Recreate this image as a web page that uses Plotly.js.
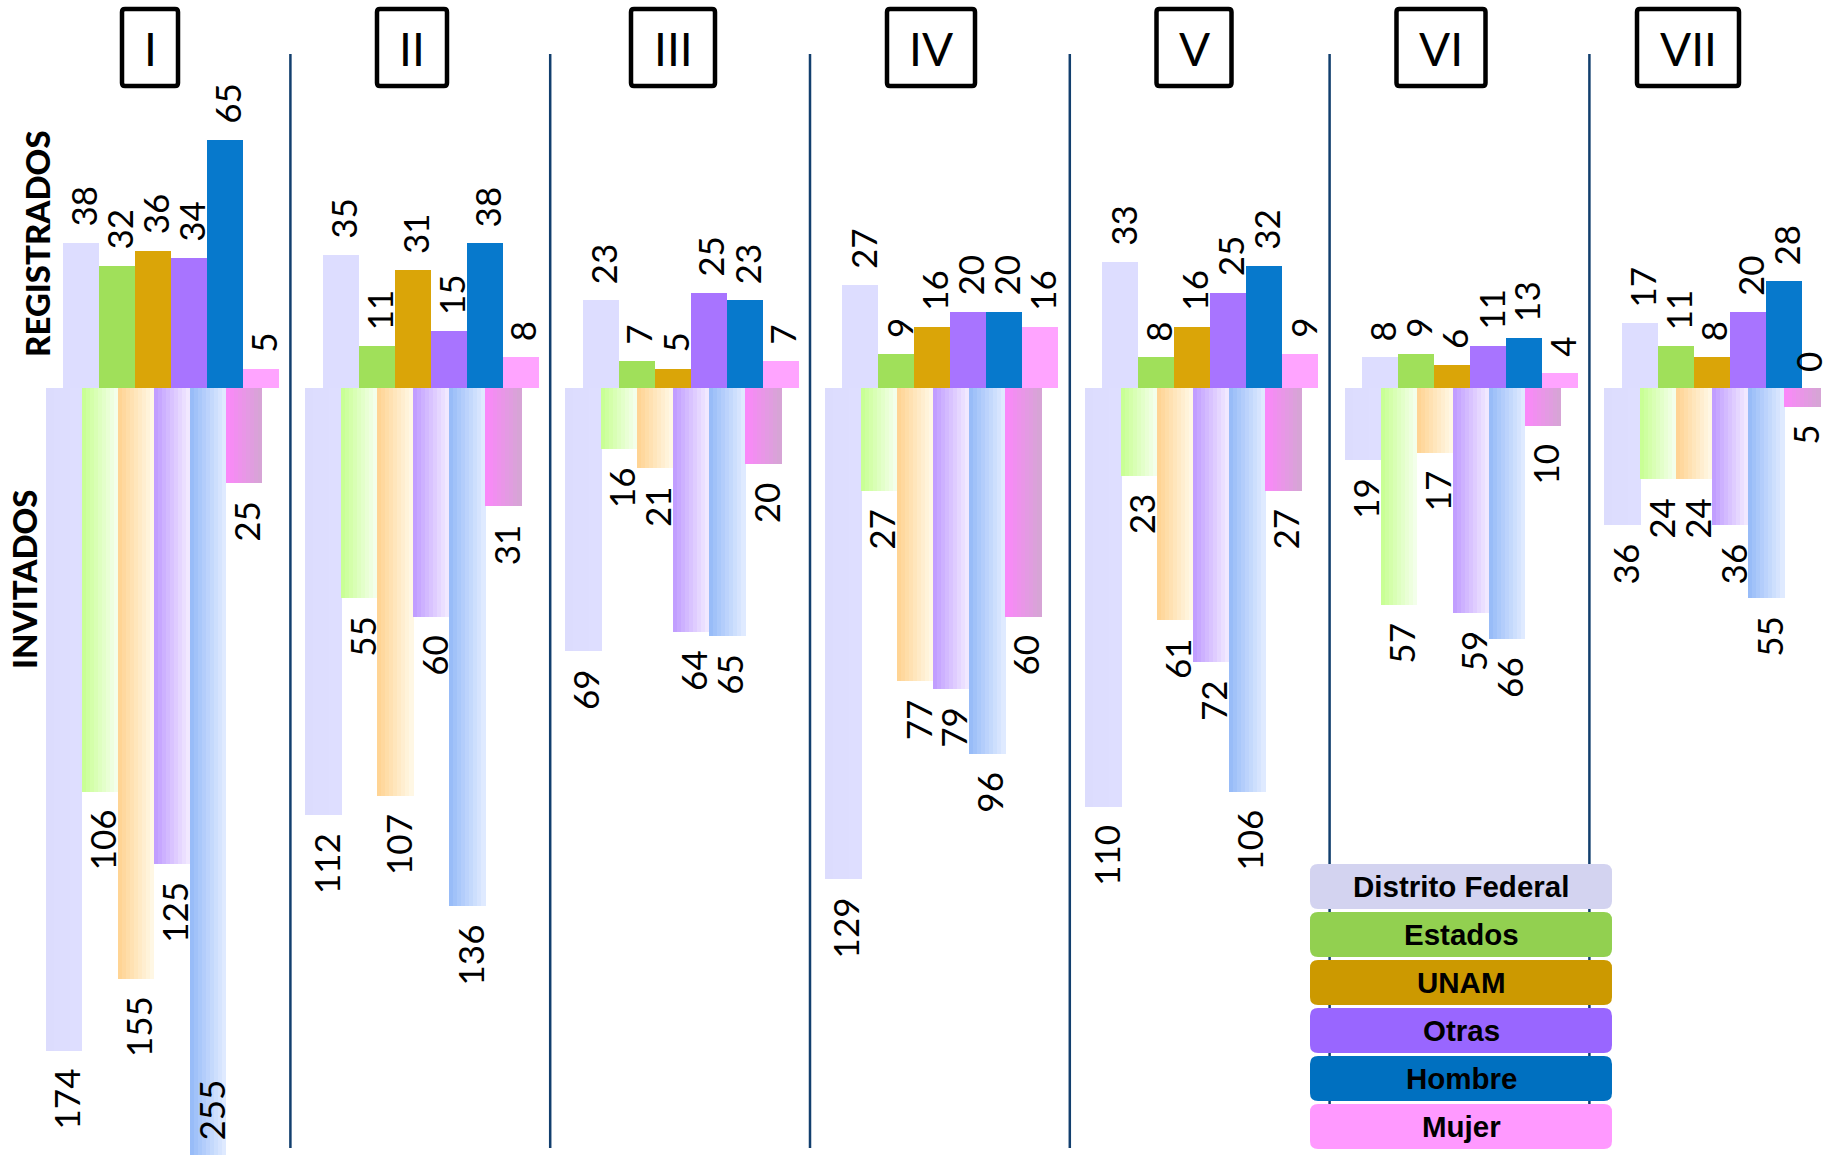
<!DOCTYPE html>
<html><head><meta charset="utf-8">
<script src="https://cdn.plot.ly/plotly-3.0.1.min.js"></script>
<style>html,body{margin:0;padding:0;background:#fff}#chart{width:1830px;height:1155px}</style>
</head><body><div id="chart"></div>
<script>
// ---- data ----
const groups = ['I','II','III','IV','V','VI','VII'];
const categories = ['Distrito Federal','Estados','UNAM','Otras','Hombre','Mujer'];
const regDF      = [38,35,23,27,33, 8,17];
const regEstados = [32,11, 7, 9, 8, 9,11];
const regUNAM    = [36,31, 5,16,16, 6, 8];
const regOtras   = [34,15,25,20,25,11,20];
const regHombre  = [65,38,23,20,32,13,28];
const regMujer   = [ 5, 8, 7,16, 9, 4, 0];
const invDF      = [174,112,69,129,110,19,36];
const invEstados = [106, 55,16, 27, 23,57,24];
const invUNAM    = [155,107,21, 77, 61,17,24];
const invOtras   = [125, 60,64, 79, 72,59,36];
const invHombre  = [255,136,65, 96,106,66,55];
const invMujer   = [ 25, 31,20, 60, 27,10, 5];
const rowLabels = ['REGISTRADOS','INVITADOS'];

// ---- styles / layout constants ----
const W = 1830, H = 1155;
const BAR_W = 36, STEP = 259.8, REG_X0 = 63, INV_X0 = 46;
const Y_TOP = 101.8, Y_BOT = -201.3;
const regColors = ['#DDDDFF','#A0E05A','#DAA508','#A874FF','#0779CC','#FFA4FF'];
const invLeft   = ['#DCDCFD','#C9FF95','#FFD494','#C19EFF','#98BCF8','#FA88F8'];
const invRight  = ['#DEDEFF','#F3FFEA','#FFF7E4','#F1E8FF','#DFEAFF','#D7A4D6'];
const legendColors = ['#D3D3F0','#92D050','#CC9900','#9966FF','#0070C0','#FF99FF'];
const BOX_CX = [150,412,673,931,1194,1441,1688];
const BOX_W  = [56,70,84,88,75,89,102];

const regSeries = [regDF,regEstados,regUNAM,regOtras,regHombre,regMujer];
const invSeries = [invDF,invEstados,invUNAM,invOtras,invHombre,invMujer];

function hex2rgb(h){h=h.replace('#','');return [0,2,4].map(i=>parseInt(h.substr(i,2),16));}
function mix(a,b,t){const A=hex2rgb(a),B=hex2rgb(b);return 'rgb('+A.map((v,i)=>Math.round(v+(B[i]-v)*t)).join(',')+')';}
const px = x => x/W, py = y => 1 - y/H;

const traces = [];
regSeries.forEach((vals,c)=>{
  traces.push({type:'bar', name:categories[c], x: groups.map((g,i)=>REG_X0 + i*STEP + (c+0.5)*BAR_W),
    y: vals, width: BAR_W, marker:{color:regColors[c], line:{width:0}}, hoverinfo:'skip', showlegend:false});
});
const N = 9;
invSeries.forEach((vals,c)=>{
  for(let k=0;k<N;k++){
    const t = k/(N-1);
    traces.push({type:'bar', name:categories[c], x: groups.map((g,i)=>INV_X0 + i*STEP + c*BAR_W + (k+0.5)*BAR_W/N),
      y: vals.map(v=>-v), width: BAR_W/N + 0.7, marker:{color:mix(invLeft[c],invRight[c],t), line:{width:0}},
      hoverinfo:'skip', showlegend:false});
  }
});

const annotations = [];
const numFont = {family:'Lato, "Open Sans", sans-serif', size:35, color:'#000'};
function labelX(cx){ return Math.min(cx, W - 24); }
regSeries.forEach((vals,c)=>{
  vals.forEach((v,i)=>{
    annotations.push({x: labelX(REG_X0 + i*STEP + (c+0.5)*BAR_W), y: v, xref:'x', yref:'y', text:String(v),
      showarrow:false, textangle:-90, xanchor:'center', yanchor:'bottom', yshift:14, xshift:2, font:numFont});
  });
});
invSeries.forEach((vals,c)=>{
  vals.forEach((v,i)=>{
    const clipped = -v < Y_BOT;
    annotations.push({x: labelX(INV_X0 + i*STEP + (c+0.5)*BAR_W), y: clipped ? Y_BOT : -v, xref:'x', yref:'y', text:String(v),
      showarrow:false, textangle:-90, xanchor:'center', yanchor: clipped ? 'bottom' : 'top', yshift: clipped ? 12 : -16, xshift:2, font:numFont});
  });
});
// row labels
annotations.push({x:px(37), y:py(244), xref:'paper', yref:'paper', xanchor:'center', yanchor:'middle', text:rowLabels[0], showarrow:false, textangle:-90,
  font:{family:'Lato, sans-serif', size:33, color:'#000', weight:900}});
annotations.push({x:px(24), y:py(579), xref:'paper', yref:'paper', xanchor:'center', yanchor:'middle', text:rowLabels[1], showarrow:false, textangle:-90,
  font:{family:'Lato, sans-serif', size:33, color:'#000', weight:900}});

function rr(x0,y0,x1,y1,r){
  const P=(x,y)=>px(x).toFixed(5)+','+py(y).toFixed(5);
  return 'M'+P(x0+r,y0)+' L'+P(x1-r,y0)+' Q'+P(x1,y0)+' '+P(x1,y0+r)+' L'+P(x1,y1-r)+' Q'+P(x1,y1)+' '+P(x1-r,y1)+
    ' L'+P(x0+r,y1)+' Q'+P(x0,y1)+' '+P(x0,y1-r)+' L'+P(x0,y0+r)+' Q'+P(x0,y0)+' '+P(x0+r,y0)+' Z';
}

const shapes = [];
// separators
for(let g=0; g<groups.length-1; g++){
  const sx = (REG_X0 + g*STEP + 6*BAR_W + INV_X0 + (g+1)*STEP)/2 - 2;
  shapes.push({type:'line', xref:'x', yref:'paper', x0:sx, x1:sx, y0:py(54), y1:py(1148), line:{color:'#123F6E', width:2.5}, layer:'below'});
}
// group boxes
groups.forEach((g,i)=>{
  shapes.push({type:'path', xref:'paper', yref:'paper', path: rr(BOX_CX[i]-BOX_W[i]/2, 9, BOX_CX[i]+BOX_W[i]/2, 86, 3),
    line:{color:'#000', width:4.5}, fillcolor:'rgba(0,0,0,0)', layer:'above'});
  annotations.push({x:px(BOX_CX[i]), y:py(48), xref:'paper', yref:'paper', xanchor:'center', yanchor:'middle', text:g, showarrow:false,
    font:{family:'Lato, sans-serif', size:46, color:'#000'}});
});
// legend
categories.forEach((c,i)=>{
  const top = 864 + 48*i;
  shapes.push({type:'path', xref:'paper', yref:'paper', path: rr(1310, top, 1612, top+45, 8),
    line:{width:0}, fillcolor: legendColors[i], layer:'above'});
  annotations.push({x:px(1461), y:py(top+22.5), xref:'paper', yref:'paper', xanchor:'center', yanchor:'middle', text:c, showarrow:false,
    font:{family:'"Liberation Sans", Arial, sans-serif', size:29.5, color:'#000', weight:'bold'}});
});

const layout = {
  width:W, height:H, margin:{l:0,r:0,t:0,b:0}, paper_bgcolor:'#fff', plot_bgcolor:'rgba(0,0,0,0)',
  barmode:'overlay', bargap:0, showlegend:false,
  xaxis:{range:[0,W], visible:false, fixedrange:true},
  yaxis:{range:[Y_BOT,Y_TOP], visible:false, fixedrange:true},
  shapes, annotations
};
Plotly.newPlot('chart', traces, layout, {displayModeBar:false, staticPlot:true});
</script></body></html>
